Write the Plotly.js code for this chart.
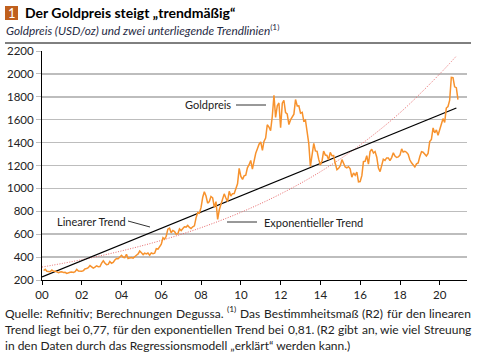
<!DOCTYPE html>
<html>
<head>
<meta charset="utf-8">
<script src="https://cdn.plot.ly/plotly-3.0.1.min.js"></script>
<style>html,body{margin:0;padding:0;background:#fff;}#chart{width:478px;height:354px;}</style>
</head>
<body>
<div id="chart"></div>
<script>
// Month-end gold price (USD/oz), Jan 2000 .. Nov 2020
const goldStartYear = 2000;
const goldPrice = [
  283,293,276,275,272,288,276,277,273,264,269,272,
  265,267,257,264,267,270,266,273,293,278,275,277,
  282,297,301,308,326,318,304,312,324,316,318,347,
  367,348,334,336,361,346,354,375,388,386,398,416,
  399,396,424,388,393,396,391,407,416,428,453,438,
  422,435,428,436,417,437,430,434,473,470,495,513,
  569,556,582,644,653,613,633,623,600,604,646,632,
  650,665,662,677,659,650,665,673,743,789,783,834,
  923,971,933,871,885,930,918,834,884,730,814,869,
  919,952,916,884,975,934,954,955,996,1040,1175,1104,
  1078,1109,1115,1180,1207,1244,1169,1246,1307,1346,1386,1406,
  1333,1410,1439,1556,1536,1505,1628,1813,1620,1722,1746,1531,
  1744,1770,1662,1651,1558,1598,1622,1648,1776,1720,1721,1657,
  1664,1588,1598,1469,1394,1192,1314,1394,1327,1324,1253,1205,
  1244,1326,1291,1288,1250,1315,1285,1286,1217,1164,1175,1199,
  1251,1214,1187,1180,1190,1171,1098,1135,1114,1142,1057,1060,
  1111,1234,1237,1285,1212,1321,1342,1309,1322,1272,1178,1146,
  1212,1255,1245,1266,1266,1242,1269,1311,1283,1270,1275,1291,
  1345,1318,1324,1316,1298,1250,1224,1202,1187,1215,1222,1279,
  1321,1316,1295,1283,1305,1409,1427,1528,1485,1511,1465,1515,
  1582,1609,1577,1702,1715,1768,1970,1968,1887,1880,1776
];

// Linear trend (read at start and end)
const linDates = ["2000-01-01","2020-11-01"];
const linValues = [226, 1702];

// Exponential trend
const expDates = ["2000-01-01","2002-01-01","2004-01-01","2006-01-01","2008-01-01","2010-01-01","2012-01-01","2014-01-01","2016-01-01","2018-01-01","2020-01-01","2020-11-01"];
const expValues = [313, 377, 454, 546, 657, 791, 952, 1146, 1380, 1661, 2000, 2156];

const yTicks = [200,400,600,800,1000,1200,1400,1600,1800,2000,2200];

// Texts
const titleText = 'Der Goldpreis steigt „trendmäßig“';
const subtitleText = 'Goldpreis (USD/oz) und zwei unterliegende Trendlinien';
const noteLine1 = ['Quelle:', 'Refinitiv;', 'Berechnungen', 'Degussa.', '^(1)', 'Das', 'Bestimmheitsmaß', '(R2)', 'für', 'den', 'linearen'];
const noteLine2 = ['Trend', 'liegt', 'bei', '0,77,', 'für', 'den', 'exponentiellen', 'Trend', 'bei', '0,81.', '(R2', 'gibt', 'an,', 'wie', 'viel', 'Streuung'];
const noteLine3 = 'in den Daten durch das Regressionsmodell „erklärt“ werden kann.)';

function pad(n){return (n<10?'0':'')+n;}
const goldDates = goldPrice.map((v,i)=>{
  const y = goldStartYear + Math.floor(i/12);
  const m = i%12;
  const last = new Date(Date.UTC(y, m+1, 0)).getUTCDate();
  return y+'-'+pad(m+1)+'-'+pad(last);
});

const FONT = 'Lato, "Liberation Sans", sans-serif';
const px = x => (x-42)/425;
const py = y => (280-y)/229;

const NOTE_SIZE = 12;
const cv = document.createElement('canvas').getContext('2d');
function tw(t, size){ cv.font = size+'px Lato'; return cv.measureText(t).width; }

function justify(words, yPix, x0, x1, size){
  const w = words.map(t => t.startsWith('^') ? tw(t.slice(1), size*0.7) : tw(t, size));
  const total = w.reduce((a,b)=>a+b,0);
  const gap = (x1 - x0 - total) / (words.length - 1);
  const out = [];
  let x = x0;
  words.forEach((t,i)=>{
    const sup = t.startsWith('^');
    out.push({text: sup ? t.slice(1) : t, xref:'paper', yref:'paper', x:px(x), y:py(sup ? yPix-4 : yPix),
      xanchor:'left', yanchor:'middle', showarrow:false, borderpad:0, borderwidth:0,
      font:{size: sup ? size*0.7 : size, color:'#222'}});
    x += w[i] + gap;
  });
  return out;
}

const traces = [
  {x: expDates, y: expValues, type:'scatter', mode:'lines', line:{color:'#e8686a', width:1, dash:'1px,1.5px', shape:'spline'}, hoverinfo:'skip'},
  {x: linDates, y: linValues, type:'scatter', mode:'lines', line:{color:'#000', width:1.3}, hoverinfo:'skip'},
  {x: goldDates, y: goldPrice, type:'scatter', mode:'lines', line:{color:'#f7922d', width:1.5}, hoverinfo:'skip'}
];

const layout = {
  width:478, height:354,
  margin:{l:42, r:11, t:51, b:74},
  paper_bgcolor:'#fff', plot_bgcolor:'#fff',
  showlegend:false,
  font:{family:FONT, color:'#222', size:11},
  title:{text:titleText, font:{family:FONT, size:14, color:'#000', weight:'bold'},
         xref:'container', yref:'container', x:25/478, xanchor:'left', y:1-13/354, yanchor:'middle'},
  xaxis:{type:'date', range:['2000-01-01','2021-05-15'], tick0:'2000-01-01', dtick:'M24', tickformat:'%y',
         showgrid:false, zeroline:false, showline:true, linecolor:'#000', linewidth:1,
         ticks:'outside', ticklen:4, tickcolor:'#000', tickfont:{size:11.5, color:'#222'}},
  yaxis:{range:[200,2200], tickvals:yTicks, showgrid:true, gridcolor:'#bdbdbd', gridwidth:1.5,
         zeroline:false, showline:true, linecolor:'#000', linewidth:1,
         ticks:'outside', ticklen:5, tickcolor:'#bdbdbd', tickfont:{size:11.5, color:'#222'}},
  shapes:[
    {type:'rect', xref:'paper', yref:'paper', x0:px(5), x1:px(18), y0:py(20), y1:py(6), fillcolor:'#c0601e', line:{width:0}},
    {type:'line', xref:'paper', yref:'paper', x0:px(5), x1:px(471), y0:py(43), y1:py(43), line:{color:'#000', width:1}},
    {type:'line', xref:'paper', yref:'paper', x0:px(236), x1:px(266), y0:py(105), y1:py(105), line:{color:'#333', width:1}},
    {type:'line', xref:'paper', yref:'paper', x0:px(128), x1:px(150), y0:py(221), y1:py(227), line:{color:'#333', width:1}},
    {type:'line', xref:'paper', yref:'paper', x0:px(227), x1:px(257), y0:py(222), y1:py(222), line:{color:'#333', width:1}}
  ],
  annotations:[
    {text:'1', xref:'paper', yref:'paper', x:px(11.5), y:py(13), showarrow:false, font:{size:13, color:'#fff'}, xanchor:'center', yanchor:'middle'},
    {text:'<i>'+subtitleText+'</i><sup>(1)</sup>', xref:'paper', yref:'paper', x:px(4), y:py(30), xanchor:'left', yanchor:'middle', showarrow:false, font:{size:11.8, color:'#1f2a44'}},
    {text:'Goldpreis', xref:'paper', yref:'paper', x:px(233), y:py(104), xanchor:'right', yanchor:'middle', showarrow:false, font:{size:11, color:'#222'}},
    {text:'Linearer Trend', xref:'paper', yref:'paper', x:px(55), y:py(221), xanchor:'left', yanchor:'middle', showarrow:false, font:{size:11, color:'#222'}},
    {text:'Exponentieller Trend', xref:'paper', yref:'paper', x:px(262), y:py(222), xanchor:'left', yanchor:'middle', showarrow:false, font:{size:11, color:'#222'}},
    {text:noteLine3, xref:'paper', yref:'paper', x:px(5), y:py(345), xanchor:'left', yanchor:'middle', showarrow:false, borderpad:0, borderwidth:0, font:{size:NOTE_SIZE, color:'#222'}}
  ].concat(justify(noteLine1, 313, 5, 471, NOTE_SIZE), justify(noteLine2, 329, 5, 471, NOTE_SIZE))
};

Plotly.newPlot('chart', traces, layout, {staticPlot:true, displayModeBar:false});
</script>
</body>
</html>
